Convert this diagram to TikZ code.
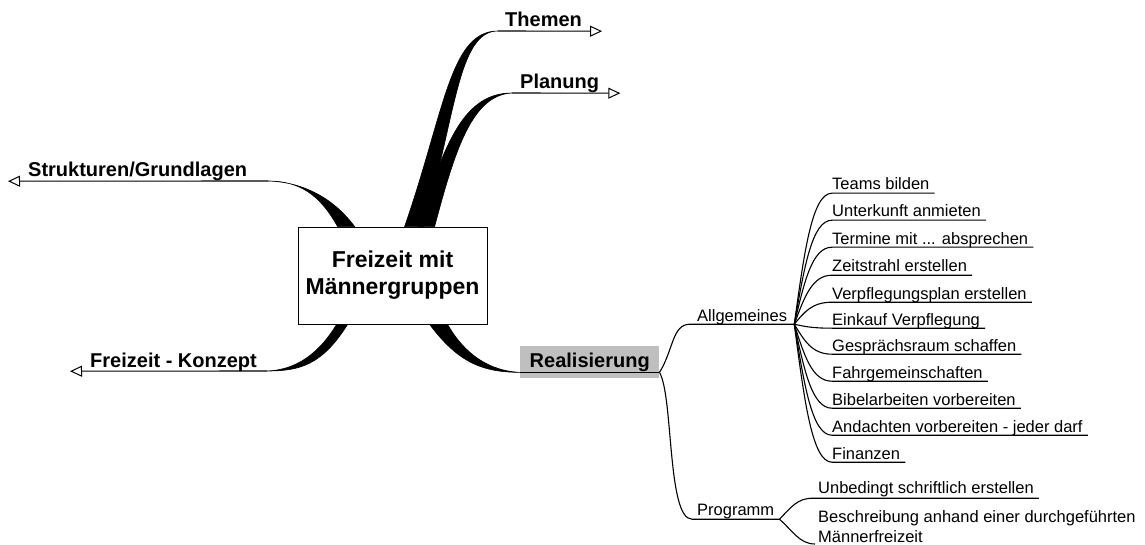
\documentclass[tikz,border=0pt]{standalone}
\usepackage{fontspec}
\setmainfont{Liberation Sans}
\usetikzlibrary{arrows.meta,calc}
\def\mydots{...}
\begin{document}
\begin{tikzpicture}[x=1pt,y=-1pt,
  lbl/.style={font=\fontsize{20}{24}\selectfont\bfseries, inner sep=0pt, text depth=4pt, anchor=base west},
  sub/.style={font=\fontsize{16.5}{20}\selectfont, inner ysep=0pt, inner xsep=0pt, text depth=3pt, anchor=base west},
  conn/.style={line width=1.1pt},
  tipline/.style={line width=1.1pt, -{Triangle[open,length=12pt,width=11pt,line width=1pt]}},
  branch/.style={fill=black, draw=black, line width=0.6pt},
  centrebox/.style={draw, fill=white, line width=0.8pt, minimum width=189pt, minimum height=97pt, align=center,
      font=\fontsize{23}{27}\selectfont\bfseries}]
\useasboundingbox (0,0) rectangle (1145,545);

% centre
\node[centrebox] (c) at (392.5,275.5) {Freizeit mit\\Männergruppen};

% labels
\node[lbl] (th) at (505,27) {Themen};
\node[lbl] (pl) at (520,89) {Planung};
\node[lbl] (st) at (28,177) {Strukturen/Grundlagen};
\node[lbl] (fk) at (90,367) {Freizeit - Konzept};
\node[fill=black!25, font=\fontsize{20}{24}\selectfont\bfseries, inner xsep=9.5pt, inner ysep=7pt,
      text height=14pt, text depth=4pt, anchor=north west] (re) at (520,346) {Realisierung};

\coordinate (thE) at (498,31);
\coordinate (plE) at (512,93);
\coordinate (stE) at (268,181);
\coordinate (fkE) at (267,371);
\coordinate (reL) at ([yshift=6pt]re.south west);
\coordinate (reR) at ([yshift=6pt]re.south east);

% tapered branches
\fill[branch] ($(c.north west)+(107,0)$) .. controls (445,110) and (450,31) .. (thE)
   .. controls (458,31) and (456,115) .. ($(c.north west)+(126,0)$) -- cycle;
\fill[branch] ($(c.north west)+(121,0)$) .. controls (445,140) and (465,93) .. (plE)
   .. controls (472,95) and (455,150) .. ($(c.north west)+(137,0)$) -- cycle;
\fill[branch] ($(c.north west)+(40,0)$) .. controls (320,195) and (300,181) .. (stE)
   .. controls (305,182) and (335,200) .. ($(c.north west)+(57,0)$) -- cycle;
\fill[branch] ($(c.south west)+(50,0)$) .. controls (322,365) and (300,371) .. (fkE)
   .. controls (295,370) and (318,355) .. ($(c.south west)+(39,0)$) -- cycle;
\fill[branch] ($(c.south west)+(132,0)$) .. controls (460,365) and (485,372) .. (reL)
   .. controls (490,371) and (465,355) .. ($(c.south west)+(150,0)$) -- cycle;

% redraw box on top
\node[centrebox] (c2) at (c) {Freizeit mit\\Männergruppen};

% arrow lines
\draw[tipline] (thE) -- ([xshift=20pt]th.south east);
\draw[tipline] (plE) -- ([xshift=21pt]pl.south east);
\draw[tipline] (stE) -- ([xshift=-20pt]st.south west);
\draw[tipline] (fkE) -- ([xshift=-20pt]fk.south west);
\draw[conn] (reL) -- (reR);

% second level
\node[sub, inner xsep=7pt] (al) at (690,321) {Allgemeines};
\node[sub, inner xsep=5pt, text depth=4pt] (pr) at (692,515) {Programm};
\draw[conn] (reR) .. controls +(14,-22) and +(-18,0) .. (al.south west) -- (al.south east);
\draw[conn] (reR) .. controls +(14,23) and +(-25,0) .. (pr.south west) -- (pr.south east);

% Allgemeines items
\foreach \i/\t/\y in {1/Teams bilden/193, 2/Unterkunft anmieten/220, 3/Termine mit \mydots{} absprechen/247,
  4/Zeitstrahl erstellen/275, 5/Verpflegungsplan erstellen/302, 6/Einkauf Verpflegung/328,
  7/Gesprächsraum schaffen/354, 8/Fahrgemeinschaften/381, 9/Bibelarbeiten vorbereiten/408,
  10/Andachten vorbereiten - jeder darf/435, 11/Finanzen/462}{
  \node[sub] (it\i) at (832,\y-3) {\t};
  \draw[conn] (al.south east) .. controls +(10,{(\y-324)*0.55}) and +(-20,0) .. (it\i.south west)
     -- ([xshift=5pt]it\i.south east);
}

% Programm items
\node[sub, text depth=5pt] (p1) at (818,493) {Unbedingt schriftlich erstellen};
\node[sub, anchor=south west, align=left, text depth=1pt] (p2) at (818,544)
   {Beschreibung anhand einer durchgeführten\\Männerfreizeit};
\draw[conn] (pr.south east) .. controls +(12,-12) and +(-16,0) .. ([xshift=-5pt]p1.south west)
   -- ([xshift=5pt]p1.south east);
\draw[conn] (pr.south east) .. controls +(12,10) and +(-16,0) .. ([xshift=-3pt]p2.south west);
\end{tikzpicture}
\end{document}
